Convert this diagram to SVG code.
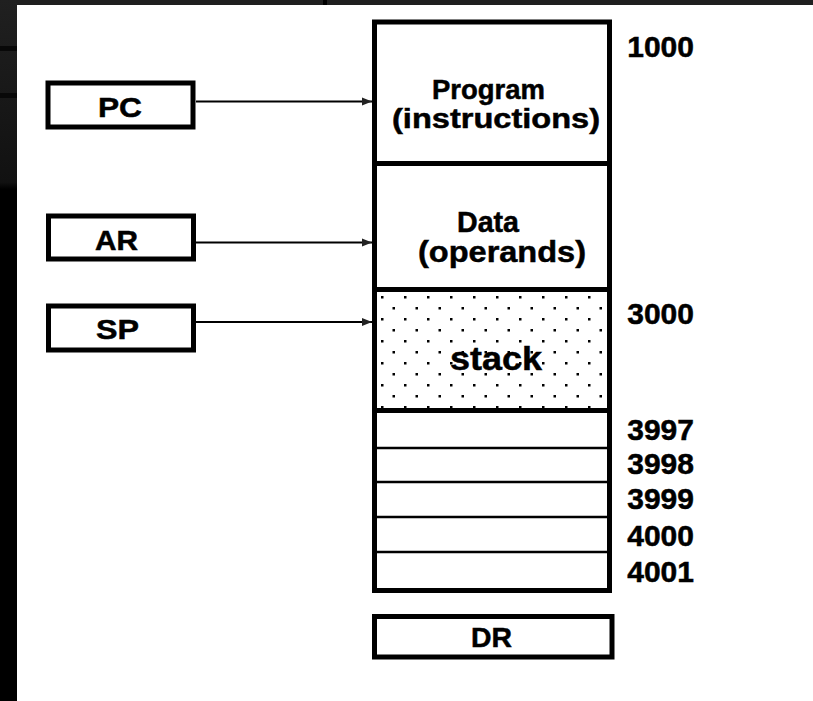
<svg xmlns="http://www.w3.org/2000/svg" width="813" height="701" viewBox="0 0 813 701">
  <defs>
    <linearGradient id="leftStrip" x1="0" y1="0" x2="0" y2="1">
      <stop offset="0" stop-color="#202020"/>
      <stop offset="0.26" stop-color="#111111"/>
      <stop offset="0.27" stop-color="#000000"/>
      <stop offset="1" stop-color="#000000"/>
    </linearGradient>
    <pattern id="dots" x="378" y="293" width="23" height="22" patternUnits="userSpaceOnUse">
      <rect x="3" y="3" width="2.5" height="2.5" fill="#000"/>
      <rect x="14.5" y="14" width="2.5" height="2.5" fill="#000"/>
    </pattern>
    <marker id="arrow" viewBox="0 0 10 10" refX="10" refY="5" markerWidth="10" markerHeight="10" markerUnits="userSpaceOnUse" orient="auto">
      <path d="M0,1 L10,5 L0,9 Z" fill="#222"/>
    </marker>
    <style>
      .box { fill: #fff; stroke: #000; stroke-width: 5; }
      .lbl { font-family: "Liberation Sans", Arial, sans-serif; font-weight: bold; fill: #000; stroke: #000; stroke-width: 0.5; }
      .num { font-family: "Liberation Sans", Arial, sans-serif; font-weight: bold; font-size: 30px; fill: #000; stroke: #000; stroke-width: 0.5; text-anchor: end; }
      .conn { stroke: #000; stroke-width: 2; fill: none; }
      .thin { stroke: #000; stroke-width: 2.5; }
      .thick { stroke: #000; stroke-width: 5; }
    </style>
  </defs>

  <!-- screenshot background -->
  <rect x="0" y="0" width="813" height="701" fill="#fff"/>
  <rect x="0" y="0" width="813" height="5" fill="#1f1f1f"/>
  <rect x="0" y="0" width="17" height="701" fill="url(#leftStrip)"/>
  <rect x="0" y="46" width="17" height="5" fill="#080808"/>
  <rect x="0" y="93" width="17" height="5" fill="#080808"/>
  <rect x="323" y="0" width="4" height="5" fill="#000"/>

  <!-- memory column -->
  <g id="memory">
    <rect class="box" x="374.5" y="22" width="235" height="568.5"/>
    <rect x="377" y="292" width="230" height="116" fill="url(#dots)"/>
    <line class="thick" x1="374.5" y1="163.5" x2="609.5" y2="163.5"/>
    <line class="thick" x1="374.5" y1="289.5" x2="609.5" y2="289.5"/>
    <line class="thick" x1="374.5" y1="410.5" x2="609.5" y2="410.5"/>
    <line class="thin" x1="374.5" y1="448" x2="609.5" y2="448"/>
    <line class="thin" x1="374.5" y1="482" x2="609.5" y2="482"/>
    <line class="thin" x1="374.5" y1="517" x2="609.5" y2="517"/>
    <line class="thin" x1="374.5" y1="552" x2="609.5" y2="552"/>
  </g>

  <g id="program">
    <text class="lbl" x="432" y="99" font-size="27" textLength="113" lengthAdjust="spacingAndGlyphs">Program</text>
    <text class="lbl" x="392" y="128" font-size="28" textLength="208" lengthAdjust="spacingAndGlyphs">(instructions)</text>
  </g>
  <g id="data">
    <text class="lbl" x="457" y="232" font-size="29" textLength="62" lengthAdjust="spacingAndGlyphs">Data</text>
    <text class="lbl" x="418" y="262" font-size="30" textLength="168" lengthAdjust="spacingAndGlyphs">(operands)</text>
  </g>
  <g id="stack">
    <rect x="448" y="343" width="97" height="32" fill="#fff" opacity="0"/>
    <text class="lbl" x="450" y="370" font-size="34" textLength="92" lengthAdjust="spacingAndGlyphs">stack</text>
  </g>

  <g id="addresses">
    <text class="num" x="694" y="57">1000</text>
    <text class="num" x="694" y="323.5">3000</text>
    <text class="num" x="694" y="440">3997</text>
    <text class="num" x="694" y="474">3998</text>
    <text class="num" x="694" y="509">3999</text>
    <text class="num" x="694" y="545.5">4000</text>
    <text class="num" x="694" y="582">4001</text>
  </g>

  <g id="pc">
    <rect class="box" x="48" y="83" width="145" height="44"/>
    <text class="lbl" x="98" y="117" font-size="28" textLength="44" lengthAdjust="spacingAndGlyphs">PC</text>
  </g>
  <g id="ar">
    <rect class="box" x="48.5" y="216" width="145" height="43"/>
    <text class="lbl" x="95" y="249.5" font-size="28" textLength="43" lengthAdjust="spacingAndGlyphs">AR</text>
  </g>
  <g id="sp">
    <rect class="box" x="48.5" y="306" width="145" height="44"/>
    <text class="lbl" x="96" y="339" font-size="28" textLength="43" lengthAdjust="spacingAndGlyphs">SP</text>
  </g>
  <g id="dr">
    <rect class="box" x="374.5" y="616.5" width="237.5" height="40.5"/>
    <text class="lbl" x="471" y="647" font-size="28" textLength="41" lengthAdjust="spacingAndGlyphs">DR</text>
  </g>

  <g id="connectors">
    <line class="conn" x1="196" y1="101.5" x2="372" y2="101.5" marker-end="url(#arrow)"/>
    <line class="conn" x1="196" y1="242.5" x2="372" y2="242.5" marker-end="url(#arrow)"/>
    <line class="conn" x1="196" y1="322" x2="372" y2="322" marker-end="url(#arrow)"/>
  </g>
</svg>
